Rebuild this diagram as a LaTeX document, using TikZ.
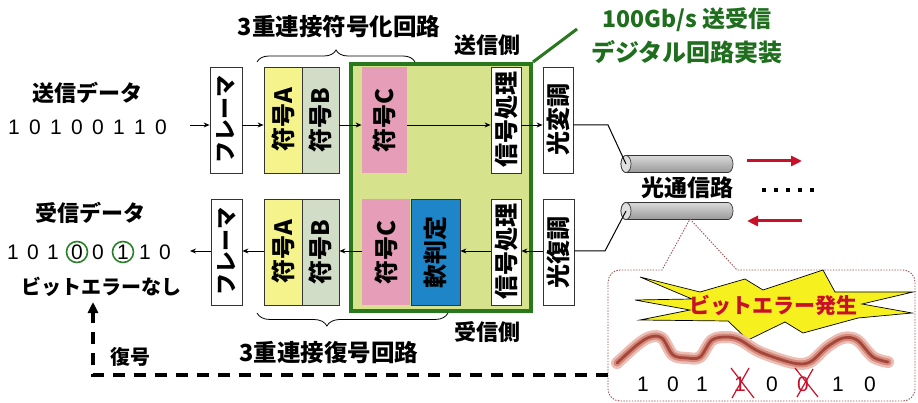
\documentclass[tikz,border=0pt]{standalone}
\usepackage{fontspec}
\usepackage{graphicx}
\setmainfont{Noto Sans CJK JP}
\newfontfamily\arial{Liberation Sans}
\usetikzlibrary{arrows.meta,decorations.pathreplacing}
\newcommand\fsz[1]{\fontsize{#1}{#1}\selectfont}
\definecolor{gfill}{RGB}{214,226,140}
\definecolor{gline}{RGB}{40,120,30}
\definecolor{gtext}{RGB}{30,110,30}
\definecolor{codeA}{RGB}{245,244,140}
\definecolor{codeB}{RGB}{210,221,200}
\definecolor{codeC}{RGB}{230,158,184}
\definecolor{soft}{RGB}{30,134,200}
\definecolor{errred}{RGB}{200,16,40}
\definecolor{waveC}{RGB}{165,70,58}
\definecolor{waveM}{RGB}{212,138,124}
\definecolor{waveH}{RGB}{236,190,180}
\definecolor{burst}{RGB}{246,240,30}
\definecolor{callout}{RGB}{160,80,80}
\definecolor{circ}{RGB}{40,130,40}
\begin{document}
\begin{tikzpicture}[x=1pt,y=-1pt,
  lbl/.style={font=\fsz{22}\bfseries, inner sep=0pt},
  blk/.style={draw=black!80, line width=0.8pt, minimum height=106pt, inner sep=0pt, font=\fsz{24}\bfseries},
  arr/.style={line width=0.9pt, -{Stealth[length=6pt,width=5pt]}},
  bit/.style={font=\arial\fsz{21}, inner sep=0pt},
  fiberbody/.style={draw=black!80, line width=0.7pt, top color=gray!30, middle color=gray!55, bottom color=gray!80},
  fibercap/.style={draw=black!80, line width=0.7pt, fill=gray!25},
  redarrow/.style={errred, line width=3pt, -{Triangle[length=11pt,width=10pt]}},
  ]
\useasboundingbox (0,0) rectangle (918,403);
\fill[white] (0,0) rectangle (918,403);

% row heights of the signal arrows
\coordinate (rowT) at (0,125);
\coordinate (rowB) at (0,251);

% digital transceiver area
\node[draw=gline, line width=4pt, fill=gfill, minimum width=180pt, minimum height=247pt, inner sep=0pt] (gbox) at (441,187.5) {};

% transmit chain
\node[blk, font=\fsz{22}\bfseries, minimum width=32pt] (frT) at (226,120) {\rotatebox{90}{フレーマ}};
\node[blk, fill=codeA, minimum width=38pt] (aT) at (283,120) {\rotatebox{90}{符号A}};
\node[blk, fill=codeB, minimum width=37pt] (bT) at (320.5,120) {\rotatebox{90}{符号B}};
\node[blk, draw=none, fill=codeC, minimum width=45pt] (cT) at (384.5,120) {\rotatebox{90}{符号C}};
\node[blk, fill=white, minimum width=30pt] (sigT) at (506,120) {\rotatebox{90}{信号処理}};
\node[blk, fill=white, minimum width=30pt] (modT) at (558,120) {\rotatebox{90}{光変調}};

% receive chain
\node[blk, font=\fsz{22}\bfseries, minimum width=31pt] (frB) at (226.5,252) {\rotatebox{90}{フレーマ}};
\node[blk, fill=codeA, minimum width=38pt] (aB) at (283,252) {\rotatebox{90}{符号A}};
\node[blk, fill=codeB, minimum width=37pt] (bB) at (320.5,252) {\rotatebox{90}{符号B}};
\node[blk, draw=none, fill=codeC, minimum width=48pt] (cB) at (386,252) {\rotatebox{90}{符号C}};
\node[blk, fill=soft, minimum width=49pt] (softB) at (435.5,252) {\rotatebox{90}{軟判定}};
\node[blk, fill=white, minimum width=30pt] (sigB) at (506,252) {\rotatebox{90}{信号処理}};
\node[blk, fill=white, minimum width=31pt] (demB) at (558.5,252) {\rotatebox{90}{光復調}};

% data words
\node[lbl] (txl) at (87,93) {送信データ};
\foreach \x/\d [count=\i] in {14/1,35/0,56/1,77/0,98/0,119/1,140/1,161/0}
  \node[bit] (t\i) at (\x,127) {\d};
\node[lbl] (rxl) at (90,213) {受信データ};
\foreach \x/\d [count=\i] in {13/1,33/0,53/1,77/0,98/0,123/1,145/1,165/0}
  \node[bit] (r\i) at (\x,252) {\d};
\draw[circ, line width=1.6pt] (r4) circle (10.5pt);
\draw[circ, line width=1.6pt] (r6) circle (10.5pt);
\node[lbl, font=\fsz{20}\bfseries] (noerr) at (101,287) {ビットエラーなし};

% transmit arrows
\coordinate (txin) at (190,125);
\draw[arr] (txin) -- (frT.west |- rowT);
\draw[arr] (frT.east |- rowT) -- (aT.west |- rowT);
\draw[arr] (bT.east |- rowT) -- (cT.west |- rowT);
\draw[arr] (cT.east |- rowT) -- (sigT.west |- rowT);
\draw[arr] (sigT.east |- rowT) -- (modT.west |- rowT);

% receive arrows
\coordinate (rxout) at (190,251);
\draw[arr] (demB.west |- rowB) -- (sigB.east |- rowB);
\draw[arr] (sigB.west |- rowB) -- (softB.east |- rowB);
\draw[arr] (cB.west |- rowB) -- (bB.east |- rowB);
\draw[arr] (aB.west |- rowB) -- (frB.east |- rowB);
\draw[arr] (frB.west |- rowB) -- (rxout);

% braces and circuit names
\draw[decorate, decoration={brace, amplitude=12pt}, line width=0.8pt] (257,62) -- (415,62);
\draw[decorate, decoration={brace, amplitude=13pt, aspect=0.634}, line width=0.8pt] (448,313) -- (257,313);
\node[lbl, font=\fsz{23.5}\bfseries] (encl) at (339,27) {3重連接符号化回路};
\node[lbl] (txside) at (487,45) {送信側};
\node[lbl, font=\fsz{23.5}\bfseries] (decl) at (329,353) {3重連接復号回路};
\node[lbl] (rxside) at (487,332) {受信側};

% implementation note
\coordinate (lead) at (577,29);
\draw[gline, line width=3pt] (gbox.north east) -- (lead);
\node[lbl, text=gtext, font=\fsz{23}\bfseries] (gl1) at (687,20) {100Gb/s 送受信};
\node[lbl, text=gtext, font=\fsz{24}\bfseries] (gl2) at (687,52) {デジタル回路実装};

% optical fibres: body with rounded far end, visible near end cap
\foreach \yc/\nm in {164/cylT,211/cylB}{
  \draw[fiberbody] (626,\yc-8.5) -- (728,\yc-8.5)
    arc[start angle=90, end angle=-90, x radius=5pt, y radius=8.5pt]
    -- (626,\yc+8.5)
    arc[start angle=270, end angle=90, x radius=5pt, y radius=8.5pt] -- cycle;
  \draw[fibercap] (626,\yc) ellipse [x radius=5pt, y radius=8.5pt];
  \coordinate (\nm) at (626,\yc);
}
\draw[line width=1pt] (modT.east |- rowT) -- (608,125) -- (cylT);
\draw[line width=1pt] (demB.east |- rowB) -- (605,251) -- (cylB);
\node[lbl, font=\fsz{23}\bfseries] (chan) at (687,188) {光通信路};
\foreach \x in {764,776,788,800,812}
  \fill (\x-2,188) rectangle (\x+2,192);
\coordinate (fwA) at (747,161);
\coordinate (fwB) at (802,161);
\coordinate (bwA) at (802,221);
\coordinate (bwB) at (747,221);
\draw[redarrow] (fwA) -- (fwB);
\draw[redarrow] (bwA) -- (bwB);

% magnified view of the received signal
\draw[callout, line width=0.9pt, dash pattern=on 1.4pt off 1.4pt]
  (690,219) -- (737,270) [rounded corners=12pt] -- (915,270) -- (915,401) -- (608,401) -- (608,270) [sharp corners] -- (662,270) -- cycle;
\fill[burst, draw=black, line width=0.7pt]
  (640,277) -- (700,292) -- (745,279) -- (763,290) -- (823,270) -- (835,292) -- (913,292)
  -- (862,304) -- (912,313) -- (858,318) -- (803,333) -- (785,322) -- (748,340) -- (728,321)
  -- (640,320) -- (690,310) -- (635,300) -- (692,299) -- cycle;
\node[lbl, text=errred, font=\fsz{21}\bfseries] (errl) at (773,305) {ビットエラー発生};
\def\wavepath{plot[smooth, tension=0.55] coordinates {(617,363) (637,345) (650,337) (662,338) (673,355) (687,358) (700,357) (712,340) (727,337) (740,340) (760,352) (793,363) (810,362) (827,347) (843,338) (857,340) (873,357) (888,362)}}
\draw[waveH, line width=12pt, line cap=round, line join=round] \wavepath;
\draw[waveM, line width=7pt, line cap=round, line join=round] \wavepath;
\draw[waveC, line width=2.8pt, line cap=round, line join=round] \wavepath;
\foreach \x/\d/\c [count=\i] in {643/1/black,673/0/black,702/1/black,740/1/errred,772/0/black,803/0/errred,838/1/black,870/0/black}
  \node[bit, text=\c] (e\i) at (\x,384) {\d};
\draw[errred, line width=1.2pt] (731,368) -- (754,398) (749,368) -- (732,398);
\draw[errred, line width=1.2pt] (795,368) -- (818,397) (813,369) -- (797,397);

% decoding feedback
\coordinate (calloutL) at (608,375);
\coordinate (fbk) at (93,302);
\draw[line width=3.5pt, dash pattern=on 12pt off 9pt, -{Triangle[length=11pt,width=10pt]}] (calloutL) -| (fbk);
\node[lbl, font=\fsz{20}\bfseries] (decw) at (130,357) {復号};
\end{tikzpicture}
\end{document}
